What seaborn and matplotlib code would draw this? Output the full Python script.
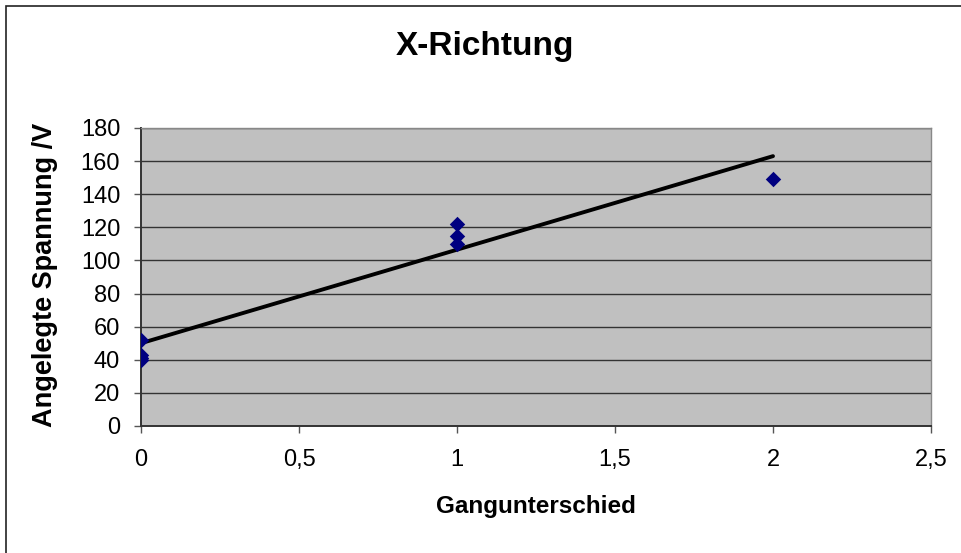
import matplotlib
matplotlib.use("Agg")
import matplotlib.pyplot as plt
import seaborn as sns
import pandas as pd
from matplotlib.patches import Rectangle
from matplotlib.ticker import FuncFormatter, MultipleLocator

# ---- data ----
gangunterschied = [0, 0, 0, 0, 1, 1, 1, 2]
spannung = [52, 43, 41, 40, 122, 115, 110, 149]
trend_x = [0, 2]
trend_y = [50, 163]
title = "X-Richtung"
xlabel = "Gangunterschied"
ylabel = "Angelegte Spannung /V"

df = pd.DataFrame({"x": gangunterschied, "y": spannung})
tdf = pd.DataFrame({"x": trend_x, "y": trend_y})

sns.set_theme(style="white")
plt.rcParams["font.family"] = ["Liberation Sans", "DejaVu Sans"]
plt.rcParams["text.color"] = "black"
plt.rcParams["axes.labelcolor"] = "black"

W, H = 962, 553
fig = plt.figure(figsize=(W / 100, H / 100), dpi=100)
fig.patch.set_facecolor("white")

# outer chart border (extends beyond right/bottom edges like in the reference)
fig.patches.append(Rectangle((6 / W, -0.05), 1.2, 1 - 6 / H + 0.05,
                             transform=fig.transFigure, fill=False,
                             edgecolor="#222222", linewidth=1.2))

ax = fig.add_axes([141 / W, 1 - 426 / H, 790 / W, 298 / H])
ax.set_facecolor("#C0C0C0")

sns.lineplot(data=tdf, x="x", y="y", ax=ax, color="black", linewidth=2.8,
             zorder=3)
sns.scatterplot(data=df, x="x", y="y", ax=ax, marker="D", s=62,
                color="#000080", linewidth=0, zorder=4)

ax.set_xlim(0, 2.5)
ax.set_ylim(0, 180)
ax.xaxis.set_major_locator(MultipleLocator(0.5))
ax.yaxis.set_major_locator(MultipleLocator(20))
ax.xaxis.set_major_formatter(FuncFormatter(
    lambda v, p: ("%g" % v).replace(".", ",")))
ax.yaxis.set_major_formatter(FuncFormatter(lambda v, p: "%d" % v))

ax.grid(axis="y", color="#333333", linewidth=1.0)
ax.grid(axis="x", visible=False)
ax.set_axisbelow(True)

for side in ["left", "bottom"]:
    ax.spines[side].set_color("#333333")
    ax.spines[side].set_linewidth(1.4)
for side in ["right", "top"]:
    ax.spines[side].set_color("#888888")
    ax.spines[side].set_linewidth(1.0)

ax.tick_params(axis="both", which="major", direction="out", length=5,
               width=1, color="#555555", labelsize=17, labelcolor="black",
               left=True, bottom=True)
ax.tick_params(axis="y", pad=10)
ax.tick_params(axis="x", pad=11.5)

ax.set_xlabel(xlabel, fontsize=17.5, fontweight="bold", va="center")
ax.xaxis.set_label_coords(0.5, (426 - 507) / 298)
ax.set_ylabel(ylabel, fontsize=19.5, fontweight="bold", va="center",
              ha="center")
ax.yaxis.set_label_coords((45 - 141) / 790, (426 - 275) / 298)

fig.text(485 / W, 1 - 46 / H, title, ha="center",
         va="center", fontsize=24, fontweight="bold")

fig.savefig("out.png", dpi=100)
